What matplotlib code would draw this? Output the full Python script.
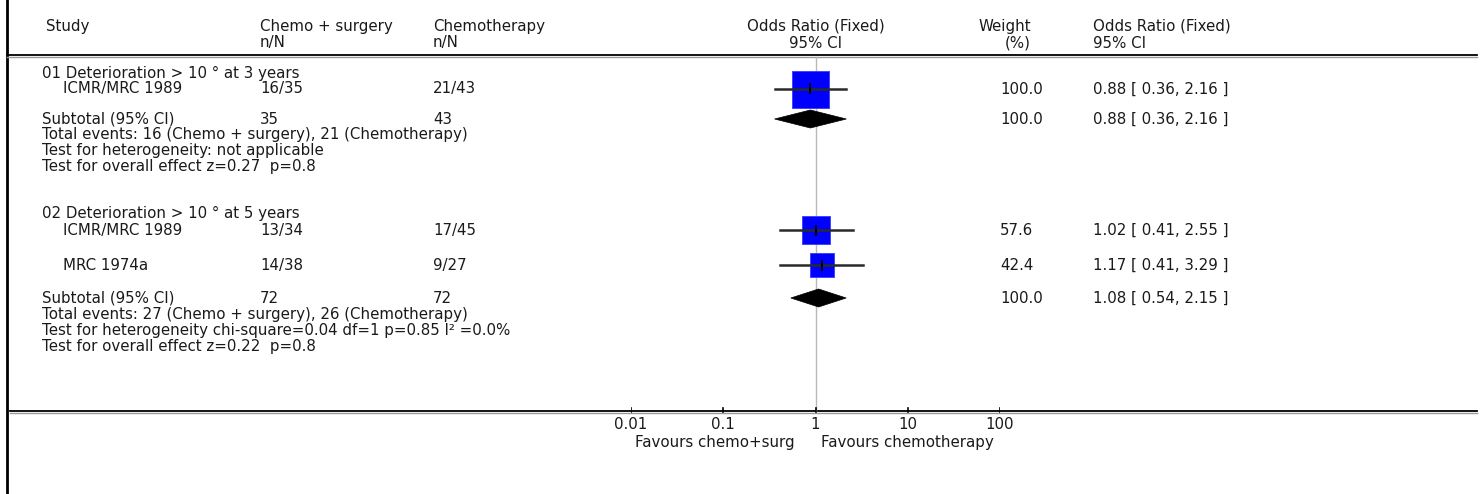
import matplotlib
matplotlib.use("Agg")
import matplotlib.pyplot as plt
from matplotlib.patches import Polygon

plt.rcParams['font.family'] = ['DejaVu Sans']

# ---- data -------------------------------------------------------------
group_titles = ["01 Deterioration > 10 ° at 3 years",
                "02 Deterioration > 10 ° at 5 years"]

study_names = [["ICMR/MRC 1989"], ["ICMR/MRC 1989", "MRC 1974a"]]
treat_nN = [["16/35"], ["13/34", "14/38"]]
ctrl_nN = [["21/43"], ["17/45", "9/27"]]
study_weight = [[100.0], [57.6, 42.4]]
study_or = [[0.88], [1.02, 1.17]]
study_lo = [[0.36], [0.41, 0.41]]
study_hi = [[2.16], [2.55, 3.29]]

sub_treat_N = [35, 72]
sub_ctrl_N = [43, 72]
sub_weight = [100.0, 100.0]
sub_or = [0.88, 1.08]
sub_lo = [0.36, 0.54]
sub_hi = [2.16, 2.15]

footnotes = [
    ["Total events: 16 (Chemo + surgery), 21 (Chemotherapy)",
     "Test for heterogeneity: not applicable",
     "Test for overall effect z=0.27  p=0.8"],
    ["Total events: 27 (Chemo + surgery), 26 (Chemotherapy)",
     "Test for heterogeneity chi-square=0.04 df=1 p=0.85 I² =0.0%",
     "Test for overall effect z=0.22  p=0.8"],
]

axis_ticks = [0.01, 0.1, 1, 10, 100]
axis_ticklabels = ["0.01", "0.1", "1", "10", "100"]
favours_left = "Favours chemo+surg"
favours_right = "Favours chemotherapy"

# ---- layout (pixel rows, y grows downward) -----------------------------
W, H = 1480, 494
title_rows = [73, 213]
study_rows = [[89], [230, 265]]
sub_rows = [119, 298]
foot_rows = [[134, 150, 166], [314, 330, 346]]
header_y1, header_y2, rule_top, rule_bottom = 26, 43, 56, 412

fs = 10.8
tc = '#1a1a1a'

fig = plt.figure(figsize=(W / 100, H / 100), dpi=100)
ax0 = fig.add_axes([0, 0, 1, 1])
ax0.set_xlim(0, W)
ax0.set_ylim(H, 0)
ax0.axis('off')

# forest panel with log scale
fx0, fx1 = 631, 1000
ax = fig.add_axes([fx0 / W, 0, (fx1 - fx0) / W, 1])
ax.set_xscale('log')
ax.set_xlim(0.01, 100)
ax.set_ylim(H, 0)
ax.axis('off')
ax.patch.set_alpha(0)

# frame lines
ax0.plot([7, 7], [0, H], color='black', lw=2)
ax0.plot([7, 1477], [rule_top - 0.7, rule_top - 0.7], color='black', lw=1.3)
ax0.plot([7, 1477], [rule_top + 1, rule_top + 1], color='#9a9a9a', lw=1)
ax0.plot([10, 1477], [rule_bottom - 0.7, rule_bottom - 0.7], color='black', lw=1.3)
ax0.plot([10, 1477], [rule_bottom + 1, rule_bottom + 1], color='#9a9a9a', lw=1)

# header
ax0.text(46, header_y1, "Study", fontsize=fs, color=tc, va='center')
ax0.text(260, header_y1, "Chemo + surgery", fontsize=fs, color=tc, va='center')
ax0.text(260, header_y2, "n/N", fontsize=fs, color=tc, va='center')
ax0.text(433, header_y1, "Chemotherapy", fontsize=fs, color=tc, va='center')
ax0.text(433, header_y2, "n/N", fontsize=fs, color=tc, va='center')
ax.text(1, header_y1, "Odds Ratio (Fixed)", fontsize=fs, color=tc, va='center', ha='center')
ax.text(1, header_y2, "95% CI", fontsize=fs, color=tc, va='center', ha='center')
ax0.text(1031, header_y1, "Weight", fontsize=fs, color=tc, va='center', ha='right')
ax0.text(1031, header_y2, "(%)", fontsize=fs, color=tc, va='center', ha='right')
ax0.text(1093, header_y1, "Odds Ratio (Fixed)", fontsize=fs, color=tc, va='center')
ax0.text(1093, header_y2, "95% CI", fontsize=fs, color=tc, va='center')

# reference line at OR = 1
ax.plot([1, 1], [rule_top + 1, rule_bottom - 1], color='#b8b8b8', lw=1, zorder=1)


def ci_text(o, l, h):
    return f"{o:.2f} [ {l:.2f}, {h:.2f} ]"


for g in range(len(group_titles)):
    ax0.text(42, title_rows[g], group_titles[g], fontsize=fs, color=tc, va='center')
    for i, name in enumerate(study_names[g]):
        y = study_rows[g][i]
        ax0.text(63, y, name, fontsize=fs, color=tc, va='center')
        ax0.text(260, y, treat_nN[g][i], fontsize=fs, color=tc, va='center')
        ax0.text(433, y, ctrl_nN[g][i], fontsize=fs, color=tc, va='center')
        ax0.text(1000, y, f"{study_weight[g][i]:.1f}", fontsize=fs, color=tc, va='center')
        ax0.text(1093, y, ci_text(study_or[g][i], study_lo[g][i], study_hi[g][i]),
                 fontsize=fs, color=tc, va='center')
        # square sized by sqrt(weight)
        side_px = 3.7 * study_weight[g][i] ** 0.5
        ax.scatter([study_or[g][i]], [y], marker='s', s=(side_px * 0.72) ** 2,
                   color='#0000ff', edgecolors='#3a3aff', linewidths=0.6, zorder=3)
        ax.plot([study_lo[g][i], study_hi[g][i]], [y, y], color='#2a2a2a', lw=1.8, zorder=4)
        ax.plot([study_or[g][i], study_or[g][i]], [y - 4.5, y + 4.5], color='black', lw=1.4, zorder=5)

    y = sub_rows[g]
    ax0.text(42, y, "Subtotal (95% CI)", fontsize=fs, color=tc, va='center')
    ax0.text(260, y, str(sub_treat_N[g]), fontsize=fs, color=tc, va='center')
    ax0.text(433, y, str(sub_ctrl_N[g]), fontsize=fs, color=tc, va='center')
    ax0.text(1000, y, f"{sub_weight[g]:.1f}", fontsize=fs, color=tc, va='center')
    ax0.text(1093, y, ci_text(sub_or[g], sub_lo[g], sub_hi[g]), fontsize=fs, color=tc, va='center')
    ax.add_patch(Polygon([(sub_lo[g], y), (sub_or[g], y - 9), (sub_hi[g], y), (sub_or[g], y + 9)],
                         closed=True, facecolor='black', edgecolor='black', lw=0.5, zorder=3))

    for j, line in enumerate(footnotes[g]):
        ax0.text(42, foot_rows[g][j], line, fontsize=fs, color=tc, va='center')

# log axis ticks and labels
for t, lab in zip(axis_ticks, axis_ticklabels):
    ax.plot([t, t], [rule_bottom - 4, rule_bottom], color='black', lw=1.2)
    ax.text(t, 424, lab, fontsize=fs, color=tc, va='center', ha='center')
ax.text(0.6, 442, favours_left, fontsize=fs, color=tc, va='center', ha='right')
ax.text(1.16, 442, favours_right, fontsize=fs, color=tc, va='center', ha='left')

plt.savefig("out.png", dpi=100, facecolor='white')
